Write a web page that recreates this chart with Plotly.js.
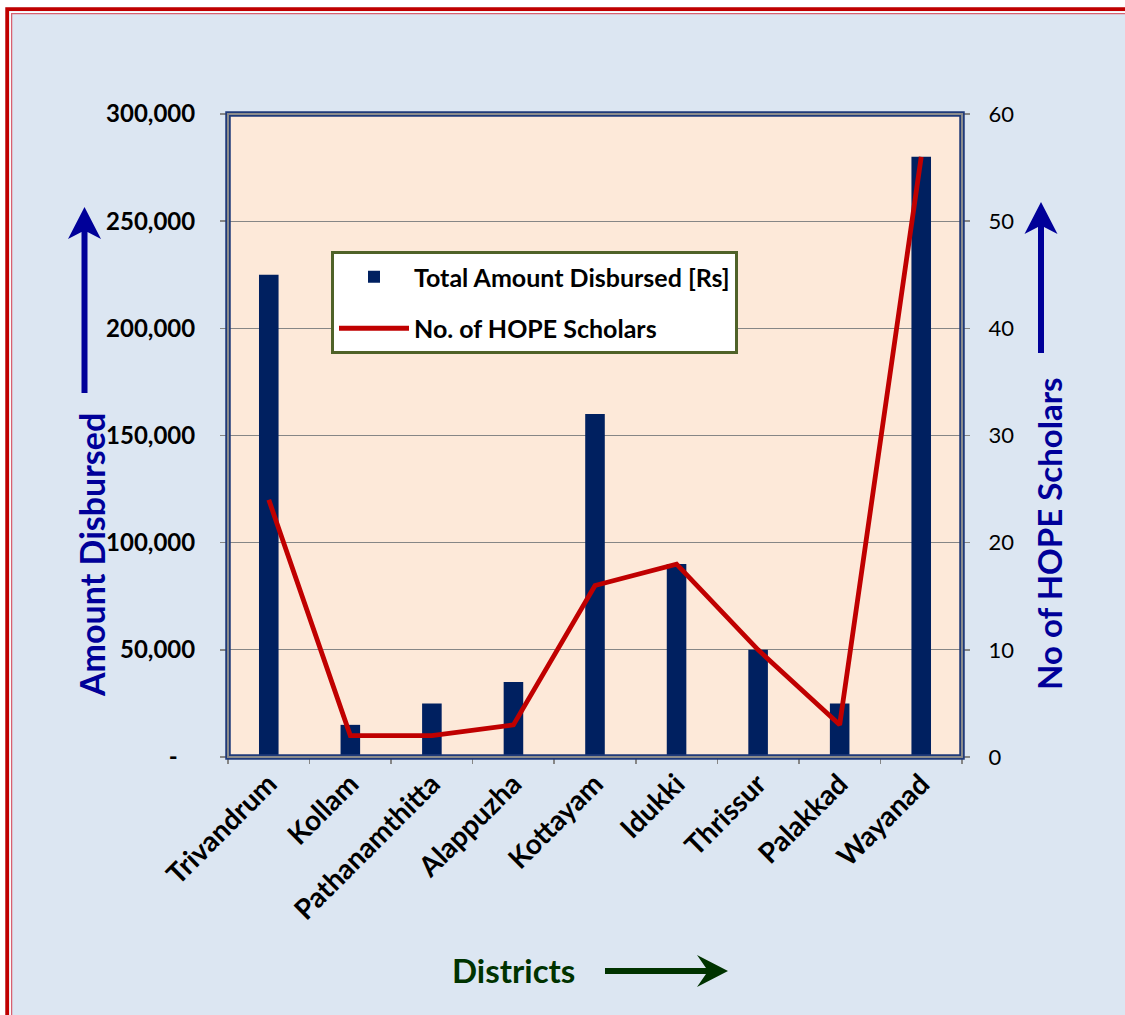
<!DOCTYPE html>
<html>
<head>
<meta charset="utf-8">
<script src="https://cdn.plot.ly/plotly-3.0.1.min.js"></script>
<style>html,body{margin:0;padding:0;background:#ffffff;}#chart{width:1125px;height:1015px;}</style>
</head>
<body>
<div id="chart"></div>
<script>
// ---- data ----
const categories = ['Trivandrum', 'Kollam', 'Pathanamthitta', 'Alappuzha', 'Kottayam', 'Idukki', 'Thrissur', 'Palakkad', 'Wayanad'];
const amountDisbursed = [225000, 15000, 25000, 35000, 160000, 90000, 50000, 25000, 280000];
const hopeScholars = [24, 2, 2, 3, 16, 18, 10, 3, 56];
const leftTickVals = [0, 50000, 100000, 150000, 200000, 250000, 300000];
const leftTickText = ['-\u00a0\u00a0\u00a0', '50,000', '100,000', '150,000', '200,000', '250,000', '300,000'];
const rightTickVals = [0, 10, 20, 30, 40, 50, 60];
const rightTickText = ['0', '10', '20', '30', '40', '50', '60'];
const barName = 'Total Amount Disbursed [Rs]';
const lineName = 'No. of HOPE Scholars';
const leftTitle = 'Amount Disbursed';
const rightTitle = 'No of HOPE Scholars';
const xTitle = 'Districts';

// ---- page geometry helpers (pixel -> paper) ----
const W = 1125, H = 1015;
const M = {l: 228, r: 163, t: 114, b: 258};
const PW = W - M.l - M.r, PH = H - M.t - M.b;
const px = v => (v - M.l) / PW;
const py = v => (H - M.b - v) / PH;
const pathOf = pts => 'M' + pts.map(p => px(p[0]).toFixed(5) + ',' + py(p[1]).toFixed(5)).join(' L') + ' Z';

function arrowUp(cx, tip, bottom) {
  return pathOf([[cx, tip], [cx + 16.5, tip + 32], [cx + 3, tip + 25], [cx + 3, bottom], [cx - 3, bottom], [cx - 3, tip + 25], [cx - 16.5, tip + 32]]);
}
function arrowRight(x0, tip, cy) {
  return pathOf([[tip, cy], [tip - 31, cy - 16], [tip - 22, cy - 3], [x0, cy - 3], [x0, cy + 3], [tip - 22, cy + 3], [tip - 31, cy + 16]]);
}

const BLUE = '#000099';
const GREEN = '#003300';
const FONT = 'Lato, "Open Sans", sans-serif';

const traces = [
  {
    type: 'bar', x: categories, y: amountDisbursed, name: barName, yaxis: 'y',
    width: 0.24, marker: {color: '#002060'}, legendgroup: 'a'
  },
  {
    type: 'scatter', mode: 'lines', x: categories, y: hopeScholars, name: lineName, yaxis: 'y2',
    line: {color: '#C00000', width: 4.8}, legendgroup: 'b'
  }
];

const shapes = [
  // white outside the frame
  {type: 'rect', xref: 'paper', yref: 'paper', x0: px(-20), x1: px(5.3), y0: py(H + 20), y1: py(-20), fillcolor: '#ffffff', line: {width: 0}, layer: 'above'},
  {type: 'rect', xref: 'paper', yref: 'paper', x0: px(-20), x1: px(W + 20), y0: py(7.3), y1: py(-20), fillcolor: '#ffffff', line: {width: 0}, layer: 'above'},
  // red frame
  {type: 'path', xref: 'paper', yref: 'paper', path: 'M' + px(7.2) + ',' + py(H + 20) + ' L' + px(7.2) + ',' + py(9.2) + ' L' + px(W + 20) + ',' + py(9.2), line: {color: '#C00000', width: 3.8}, layer: 'above'},
  {type: 'path', xref: 'paper', yref: 'paper', path: 'M' + px(10.4) + ',' + py(H + 20) + ' L' + px(10.4) + ',' + py(12.4) + ' L' + px(W + 20) + ',' + py(12.4), line: {color: '#ffffff', width: 1.8}, layer: 'above'},
  {type: 'path', xref: 'paper', yref: 'paper', path: 'M' + px(11.6) + ',' + py(H + 20) + ' L' + px(11.6) + ',' + py(13.6) + ' L' + px(W + 20) + ',' + py(13.6), line: {color: '#D86070', width: 1.3}, layer: 'above'},
  // plot border (navy / grey / navy)
  {type: 'rect', xref: 'paper', yref: 'paper', x0: 0, x1: 1, y0: 0, y1: 1, line: {color: '#1F3A7A', width: 5.5}, layer: 'above'},
  {type: 'rect', xref: 'paper', yref: 'paper', x0: 0, x1: 1, y0: 0, y1: 1, line: {color: '#8C8C8C', width: 2}, layer: 'above'},
  // arrows
  {type: 'path', xref: 'paper', yref: 'paper', path: arrowUp(84.5, 207, 393), fillcolor: BLUE, line: {width: 0}, layer: 'above'},
  {type: 'path', xref: 'paper', yref: 'paper', path: arrowUp(1041, 202, 353), fillcolor: BLUE, line: {width: 0}, layer: 'above'},
  {type: 'path', xref: 'paper', yref: 'paper', path: arrowRight(605, 728, 971), fillcolor: GREEN, line: {width: 0}, layer: 'above'}
];

const annotations = [
  {xref: 'paper', yref: 'paper', x: px(91), y: py(555), text: leftTitle, textangle: -90, showarrow: false, xanchor: 'center', yanchor: 'middle',
   font: {family: FONT, size: 34, color: BLUE, weight: 'bold'}},
  {xref: 'paper', yref: 'paper', x: px(1049), y: py(534), text: rightTitle, textangle: -90, showarrow: false, xanchor: 'center', yanchor: 'middle',
   font: {family: FONT, size: 33, color: BLUE, weight: 'bold'}},
  {xref: 'paper', yref: 'paper', x: px(513), y: py(970), text: xTitle, showarrow: false, xanchor: 'center', yanchor: 'middle',
   font: {family: FONT, size: 33, color: GREEN, weight: 'bold'}}
];

const layout = {
  width: W, height: H,
  margin: {l: M.l, r: M.r, t: M.t, b: M.b, pad: 0},
  paper_bgcolor: '#DCE6F2',
  plot_bgcolor: '#FDE9D9',
  showlegend: true,
  legend: {
    x: px(331), y: py(251), xanchor: 'left', yanchor: 'top',
    bgcolor: '#ffffff', bordercolor: '#4F6228', borderwidth: 3,
    font: {family: FONT, size: 25, color: '#000000', weight: 'bold'},
    traceorder: 'grouped', tracegroupgap: 16, itemwidth: 70
  },
  xaxis: {
    type: 'category', tickangle: -45, automargin: false,
    ticks: 'outside', ticklen: 6, tickcolor: '#868686', tickwidth: 1.5, tickson: 'boundaries',
    showgrid: false, showline: false, zeroline: false,
    tickfont: {family: FONT, size: 28, color: '#000000', weight: 'bold'},
    ticklabelstandoff: 4
  },
  yaxis: {
    range: [0, 300000], tickmode: 'array', tickvals: leftTickVals, ticktext: leftTickText, automargin: false,
    ticks: 'outside', ticklen: 7, tickcolor: '#868686', tickwidth: 1.5,
    showgrid: true, gridcolor: '#868686', gridwidth: 1.2, zeroline: false, showline: false,
    tickfont: {family: FONT, size: 24, color: '#000000', weight: 'bold'},
    ticklabelstandoff: 20
  },
  yaxis2: {
    overlaying: 'y', side: 'right', range: [0, 60], tickmode: 'array', tickvals: rightTickVals, ticktext: rightTickText, automargin: false,
    ticks: 'outside', ticklen: 7, tickcolor: '#868686', tickwidth: 1.5,
    showgrid: false, zeroline: false, showline: false,
    tickfont: {family: FONT, size: 22, color: '#000000'},
    ticklabelstandoff: 14
  },
  shapes: shapes,
  annotations: annotations
};

Plotly.newPlot('chart', traces, layout, {displayModeBar: false, staticPlot: true});
</script>
</body>
</html>
